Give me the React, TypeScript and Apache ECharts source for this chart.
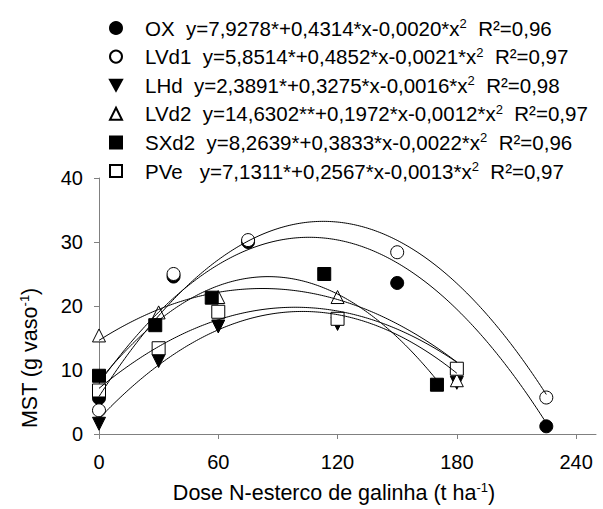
import React, { useEffect, useRef } from 'react';
import * as echarts from 'echarts';

// ---- data ----
const seriesNames = ['OX', 'LVd1', 'LHd', 'LVd2', 'SXd2', 'PVe'];
const eqTexts = [
  'y=7,9278*+0,4314*x-0,0020*x',
  'y=5,8514*+0,4852*x-0,0021*x',
  'y=2,3891*+0,3275*x-0,0016*x',
  'y=14,6302**+0,1972*x-0,0012*x',
  'y=8,2639*+0,3833*x-0,0022*x',
  ' y=7,1311*+0,2567*x-0,0013*x',
];
const r2Texts = ['R²=0,96', 'R²=0,97', 'R²=0,98', 'R²=0,97', 'R²=0,96', 'R²=0,97'];

// regression coefficients (b0, b1 as printed; b2 estimated from the drawn curves)
const coefB0 = [7.9278, 5.8514, 2.3891, 14.6302, 8.2639, 7.1311];
const coefB1 = [0.4314, 0.4852, 0.3275, 0.1972, 0.3833, 0.2567];
const coefB2 = [-0.00204, -0.00215, -0.0016, -0.0012, -0.00225, -0.0013];

// observed doses and MST values
const doseOX = [0, 37.5, 75, 150, 225];
const mstOX = [5.6, 24.6, 30.0, 23.6, 1.2];
const doseLVd1 = [0, 37.5, 75, 150, 225];
const mstLVd1 = [3.7, 25.0, 30.3, 28.4, 5.7];
const doseLHd = [0, 30, 60, 120, 180];
const mstLHd = [1.6, 11.4, 16.8, 17.2, 8.0];
const doseLVd2 = [0, 30, 60, 120, 180];
const mstLVd2 = [15.4, 19.0, 21.4, 21.4, 8.4];
const doseSXd2 = [0, 28.3, 56.7, 113.3, 170];
const mstSXd2 = [9.1, 17.0, 21.3, 25.0, 7.7];
const dosePVe = [0, 30, 60, 120, 180];
const mstPVe = [6.8, 13.4, 19.1, 18.0, 10.2];

const xTicks = [0, 60, 120, 180, 240];
const yTicks = [0, 10, 20, 30, 40];

const doses = [doseOX, doseLVd1, doseLHd, doseLVd2, doseSXd2, dosePVe];
const msts = [mstOX, mstLVd1, mstLHd, mstLVd2, mstSXd2, mstPVe];

// ---- styles ----
const FONT = 'Liberation Sans, Arial, Helvetica, sans-serif';
const downTri = 'path://M0,0L10,0L5,9Z';
const markerStyles = [
  { symbol: 'circle', fill: '#000' },
  { symbol: 'circle', fill: '#fff' },
  { symbol: downTri, fill: '#000' },
  { symbol: 'triangle', fill: '#fff' },
  { symbol: 'rect', fill: '#000' },
  { symbol: 'rect', fill: '#fff' },
];

export default function App() {
  const ref = useRef<HTMLDivElement>(null);

  useEffect(() => {
    document.body.style.margin = '0';
    if (!ref.current) return;
    const chart = echarts.init(ref.current, null, { renderer: 'svg' });

    const scatterSeries = seriesNames.map((name, i) => ({
      name,
      type: 'scatter',
      symbol: markerStyles[i].symbol,
      symbolSize: 13,
      itemStyle: { color: markerStyles[i].fill, borderColor: '#000', borderWidth: 1, opacity: 1 },
      data: doses[i].map((d, j) => [d, msts[i][j]]),
      z: 2,
    }));

    const curveSeries = seriesNames.map((name, i) => {
      const xEnd = doses[i][doses[i].length - 1];
      const pts: number[][] = [];
      for (let x = 0; x <= xEnd; x += 1) {
        pts.push([x, coefB0[i] + coefB1[i] * x + coefB2[i] * x * x]);
      }
      if (pts[pts.length - 1][0] < xEnd) {
        pts.push([xEnd, coefB0[i] + coefB1[i] * xEnd + coefB2[i] * xEnd * xEnd]);
      }
      return {
        name: name + '_fit',
        type: 'line',
        showSymbol: false,
        symbol: 'none',
        silent: true,
        lineStyle: { color: '#000', width: 1 },
        data: pts,
        z: 3,
      };
    });

    const richLegend = {
      n: { fontFamily: FONT, fontSize: 20.5, color: '#000', lineHeight: 22, padding: [0, 0, 0, 18] },
      s: { fontFamily: FONT, fontSize: 13, color: '#000', lineHeight: 12, verticalAlign: 'top' },
      t: { fontFamily: FONT, fontSize: 20.5, color: '#000', lineHeight: 22 },
    };
    const richName = {
      a: { fontFamily: FONT, fontSize: 21.5, color: '#000', lineHeight: 24 },
      s: { fontFamily: FONT, fontSize: 13, color: '#000', lineHeight: 12, verticalAlign: 'top' },
    };

    chart.setOption({
      animation: false,
      backgroundColor: '#fff',
      legend: {
        data: seriesNames,
        orient: 'vertical',
        left: 104,
        top: 12,
        itemWidth: 12,
        itemHeight: 12,
        itemGap: 7.1,
        selectedMode: false,
        formatter: (name: string) => {
          const i = seriesNames.indexOf(name);
          return `{n|${name}  ${eqTexts[i]}}{s|2}{t|  ${r2Texts[i]}}`;
        },
        textStyle: { rich: richLegend },
      },
      grid: { left: 99, right: 7, top: 178, bottom: 72, containLabel: false },
      xAxis: {
        type: 'value',
        min: 0,
        max: 250,
        interval: 60,
        name: '{a|Dose N-esterco de galinha (t ha}{s|-1}{a|)}',
        nameLocation: 'middle',
        nameGap: 47,
        nameTextStyle: { padding: [0, 27, 0, 0], rich: richName },
        axisLine: { show: true, lineStyle: { color: '#808080', width: 1 } },
        axisTick: { show: true, length: 5, lineStyle: { color: '#808080' }, customValues: xTicks },
        axisLabel: { fontFamily: FONT, fontSize: 20, color: '#000', margin: 18, customValues: xTicks },
        splitLine: { show: false },
      },
      yAxis: {
        type: 'value',
        min: 0,
        max: 40,
        interval: 10,
        name: '{a|MST (g vaso}{s|-1}{a|)}',
        nameLocation: 'middle',
        nameGap: 57,
        nameRotate: 90,
        nameTextStyle: { padding: [0, 104, 0, 0], rich: richName },
        axisLine: { show: true, lineStyle: { color: '#808080', width: 1 } },
        axisTick: { show: true, length: 5, lineStyle: { color: '#808080' }, customValues: yTicks },
        axisLabel: { fontFamily: FONT, fontSize: 20, color: '#000', margin: 16, customValues: yTicks },
        splitLine: { show: false },
      },
      series: [...scatterSeries, ...curveSeries],
    });

    return () => chart.dispose();
  }, []);

  return <div ref={ref} style={{ width: 603, height: 509 }} />;
}
